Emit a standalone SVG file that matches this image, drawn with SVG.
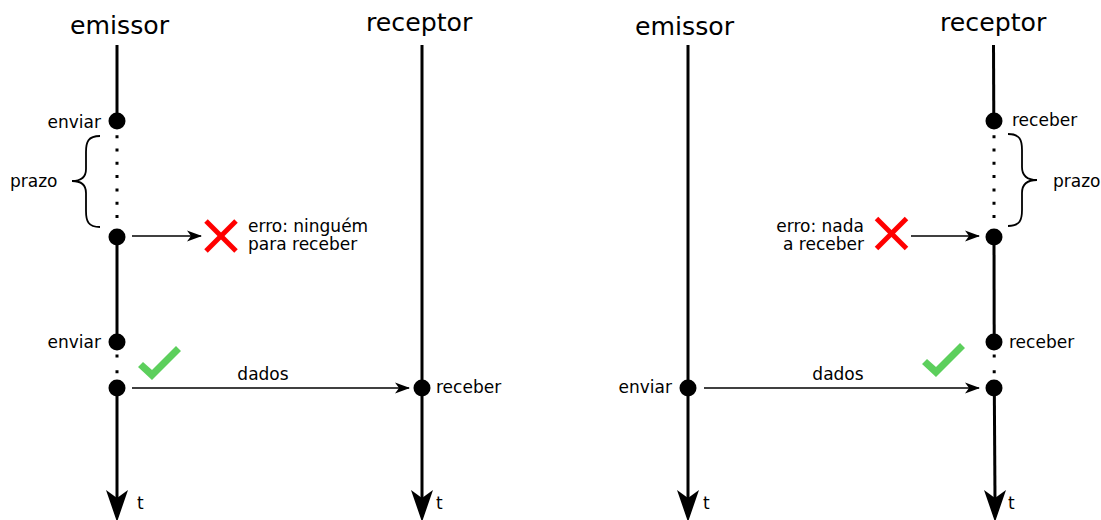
<svg xmlns="http://www.w3.org/2000/svg" width="1101" height="520" viewBox="0 0 1101 520">
<style>
.hdr{font-family:"DejaVu Sans",sans-serif;font-size:25.2px;fill:#000}
.lbl{font-family:"DejaVu Sans",sans-serif;font-size:17px;fill:#000}
.tl{stroke:#000;stroke-width:3;fill:none}
.dot{fill:#000}
.dotted{stroke:#000;stroke-width:3;fill:none}
.conn{stroke:#000;stroke-width:1.5;fill:none}
.brace{stroke:#000;stroke-width:1.8;fill:none}
.xm{stroke:#f00;stroke-width:5;fill:none}
.ck{fill:#5ccf5c}
.ahead{fill:#000}
</style>
<defs>
<marker id="arr" markerUnits="userSpaceOnUse" markerWidth="16" markerHeight="12" viewBox="-15 -6 16 12" refX="0" refY="0" orient="auto">
<path d="M1,0 L-14,-5.5 L-10,0 L-14,5.5 Z" fill="#000"/>
</marker>
<path id="tip" d="M0,522 L-11,490 L0,498 L11,490 Z"/>
<g id="cross"><line x1="-15" y1="-15" x2="15" y2="15"/><line x1="15" y1="-15" x2="-15" y2="15"/></g>
<path id="check" d="M138,367 L143,362 L152,370 L176,346 L181,351 L152,380 Z"/>
</defs>

<!-- Left diagram -->
<g id="left-emissor">
<text class="hdr" x="70" y="34">emissor</text>
<line class="tl" x1="117" y1="45" x2="117" y2="121"/>
<line class="tl" x1="117" y1="237" x2="117" y2="342"/>
<line class="tl" x1="117" y1="388" x2="117" y2="500"/>
<line class="dotted" x1="117" y1="135.2" x2="117" y2="218" stroke-dasharray="3 10.3"/>
<line class="dotted" x1="117" y1="354.5" x2="117" y2="373.2" stroke-dasharray="3 12.7"/>
<use href="#tip" x="117" y="0" class="ahead"/>
<text class="lbl" x="137" y="509">t</text>
</g>
<g id="left-send1">
<circle class="dot" cx="117" cy="121" r="8.5"/>
<text class="lbl" x="101" y="127.5" text-anchor="end">enviar</text>
</g>
<g id="left-timeout">
<circle class="dot" cx="117" cy="237" r="8.5"/>
<path class="brace" d="M100,136 C88,136 86,142 86,152 L86,169 C86,177 82,181 72,181 C82,181 86,185 86,193 L86,211 C86,221 88,227 100,227"/>
<text class="lbl" x="10" y="187">prazo</text>
</g>
<g id="left-error">
<use href="#cross" class="xm" transform="translate(221,236)"/>
<text class="lbl" x="248" y="232">erro: ninguém</text>
<text class="lbl" x="248" y="250">para receber</text>
</g>
<g id="left-send2">
<circle class="dot" cx="117" cy="342" r="8.5"/>
<text class="lbl" x="101" y="348" text-anchor="end">enviar</text>
</g>
<g id="left-send2-ok">
<circle class="dot" cx="117" cy="388" r="8.5"/>
<use href="#check" class="ck"/>
</g>
<g id="left-receptor">
<text class="hdr" x="366" y="31">receptor</text>
<line class="tl" x1="422" y1="45" x2="422" y2="500"/>
<use href="#tip" x="422" y="0" class="ahead"/>
<text class="lbl" x="436" y="509">t</text>
</g>
<g id="left-recv">
<circle class="dot" cx="422" cy="388" r="8.5"/>
<text class="lbl" x="436" y="393">receber</text>
</g>

<!-- Right diagram -->
<g id="right-emissor">
<text class="hdr" x="635" y="35">emissor</text>
<line class="tl" x1="688" y1="45" x2="688" y2="500"/>
<use href="#tip" x="688" y="0" class="ahead"/>
<text class="lbl" x="703" y="509">t</text>
</g>
<g id="right-send">
<circle class="dot" cx="688" cy="388" r="8.5"/>
<text class="lbl" x="672" y="393" text-anchor="end">enviar</text>
</g>
<g id="right-receptor">
<text class="hdr" x="940" y="31">receptor</text>
<line class="tl" x1="993.5" y1="45" x2="993.8" y2="121"/>
<line class="tl" x1="994" y1="237" x2="994.2" y2="342"/>
<line class="tl" x1="994.3" y1="388" x2="995" y2="500"/>
<line class="dotted" x1="994" y1="135.2" x2="994" y2="218" stroke-dasharray="3 10.3"/>
<line class="dotted" x1="994.2" y1="354.5" x2="994.2" y2="373.2" stroke-dasharray="3 12.7"/>
<use href="#tip" x="995" y="0" class="ahead"/>
<text class="lbl" x="1008" y="509">t</text>
</g>
<g id="right-recv1">
<circle class="dot" cx="994" cy="121" r="8.5"/>
<text class="lbl" x="1012" y="126">receber</text>
</g>
<g id="right-timeout">
<circle class="dot" cx="994" cy="237" r="8.5"/>
<path class="brace" d="M1008,134 C1020,134 1022,140 1022,150 L1022,167 C1022,175 1026,180 1037,180 C1026,180 1022,185 1022,193 L1022,210 C1022,220 1020,226 1008,226"/>
<text class="lbl" x="1053" y="187">prazo</text>
</g>
<g id="right-error">
<use href="#cross" class="xm" transform="translate(891.5,233.5)"/>
<text class="lbl" x="864" y="232" text-anchor="end">erro: nada</text>
<text class="lbl" x="864" y="250" text-anchor="end">a receber</text>
</g>
<g id="right-recv2">
<circle class="dot" cx="994" cy="342" r="8.5"/>
<text class="lbl" x="1009" y="348">receber</text>
</g>
<g id="right-recv2-ok">
<circle class="dot" cx="994" cy="388" r="8.5"/>
<use href="#check" class="ck" transform="translate(784,-3)"/>
</g>

<g id="connectors">
<line class="conn" x1="132" y1="236" x2="201" y2="236" marker-end="url(#arr)"/>
<line class="conn" x1="132" y1="388" x2="409" y2="388" marker-end="url(#arr)"/>
<text class="lbl" x="263" y="380" text-anchor="middle">dados</text>
<line class="conn" x1="911" y1="236" x2="979" y2="236" marker-end="url(#arr)"/>
<line class="conn" x1="704" y1="388" x2="979" y2="388" marker-end="url(#arr)"/>
<text class="lbl" x="838" y="380" text-anchor="middle">dados</text>
</g>
</svg>
